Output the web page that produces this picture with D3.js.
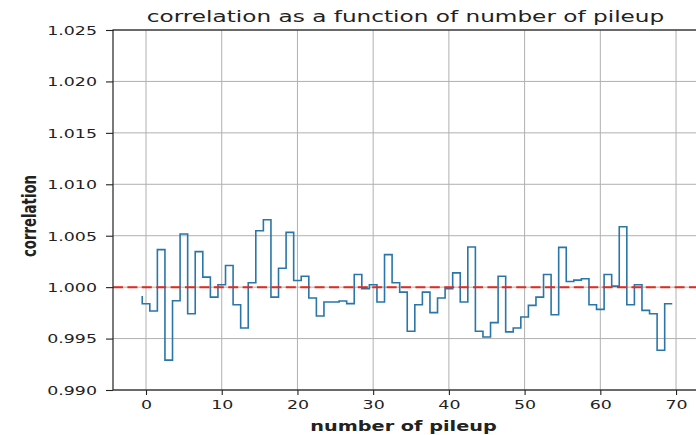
<!DOCTYPE html>
<html>
<head>
<meta charset="utf-8">
<script src="https://cdn.jsdelivr.net/npm/d3@7"></script>
<style>
  html, body { margin: 0; padding: 0; background: #fff; overflow: hidden; }
  svg { display: block; }
  text { font-family: "DejaVu Sans", sans-serif; fill: #222; }
</style>
</head>
<body>
<svg id="chart" width="696" height="435"></svg>
<script>
// Step edges (number of pileup) and the correlation value reached at each edge
const pileupEdges = [
  -0.5, 0.5, 1.5, 2.5, 3.5, 4.5, 5.5, 6.5, 7.5, 8.5, 9.5,
  10.5, 11.5, 12.5, 13.5, 14.5, 15.5, 16.5, 17.5, 18.5, 19.5,
  20.5, 21.5, 22.5, 23.5, 24.5, 25.5, 26.5, 27.5, 28.5, 29.5,
  30.5, 31.5, 32.5, 33.5, 34.5, 35.5, 36.5, 37.5, 38.5, 39.5,
  40.5, 41.5, 42.5, 43.5, 44.5, 45.5, 46.5, 47.5, 48.5, 49.5,
  50.5, 51.5, 52.5, 53.5, 54.5, 55.5, 56.5, 57.5, 58.5, 59.5,
  60.5, 61.5, 62.5, 63.5, 64.5, 65.5, 66.5, 67.5, 68.5, 69.5
];
const correlation = [
  0.99913,
  0.99839, 0.99768, 1.00365, 0.99290, 0.99868, 1.00516, 0.99742, 1.00345, 1.00097, 0.99903,
  1.00023, 1.00210, 0.99829, 0.99603, 1.00042, 1.00548, 1.00655, 0.99903, 1.00184, 1.00532,
  1.00065, 1.00106, 0.99894, 0.99719, 0.99856, 0.99856, 0.99865, 0.99840, 1.00123, 0.99984,
  1.00023, 0.99855, 1.00316, 1.00042, 0.99952, 0.99571, 0.99829, 0.99952, 0.99752, 0.99894,
  0.99984, 1.00139, 0.99855, 1.00390, 0.99571, 0.99516, 0.99655, 1.00106, 0.99565, 0.99603,
  0.99710, 0.99823, 0.99903, 1.00123, 0.99732, 1.00387, 1.00055, 1.00068, 1.00081, 0.99829,
  0.99784, 1.00123, 1.00010, 1.00587, 0.99829, 1.00023, 0.99774, 0.99742, 0.99387, 0.99839
];
const referenceLevel = 1.0;
const xTicks = [0, 10, 20, 30, 40, 50, 60, 70];
const yTicks = [0.990, 0.995, 1.000, 1.005, 1.010, 1.015, 1.020, 1.025];
const titleText = "correlation as a function of number of pileup";
const xLabelText = "number of pileup";
const yLabelText = "correlation";

// Layout
const SX = 1.45;            // horizontal stretch applied to text glyphs
const plot = { left: 113, right: 698, top: 30, bottom: 390 };

const svg = d3.select("#chart");

const x = d3.scaleLinear().domain([-4.36, 72.9]).range([plot.left, plot.right]);
const y = d3.scaleLinear().domain([0.990, 1.025]).range([plot.bottom, plot.top]);

// Grid
const grid = svg.append("g").attr("class", "grid");
grid.selectAll("line.gx").data(xTicks).join("line")
  .attr("x1", d => x(d)).attr("x2", d => x(d))
  .attr("y1", plot.top).attr("y2", plot.bottom)
  .attr("stroke", "#b0b0b0").attr("stroke-width", 1);
grid.selectAll("line.gy").data(yTicks).join("line")
  .attr("x1", plot.left).attr("x2", plot.right)
  .attr("y1", d => y(d)).attr("y2", d => y(d))
  .attr("stroke", "#b0b0b0").attr("stroke-width", 1);

// Step line
const points = pileupEdges.map((p, i) => [p, correlation[i]]);
const line = d3.line()
  .x(d => x(d[0])).y(d => y(d[1]))
  .curve(d3.curveStepBefore);
svg.append("path")
  .datum(points)
  .attr("d", line)
  .attr("fill", "none")
  .attr("stroke", "#2a76a8")
  .attr("stroke-width", 1.6)
  .attr("stroke-linejoin", "miter");

// Reference line at 1.0
svg.append("line")
  .attr("x1", plot.left).attr("x2", plot.right)
  .attr("y1", y(referenceLevel)).attr("y2", y(referenceLevel))
  .attr("stroke", "#e8281f").attr("stroke-width", 2)
  .attr("stroke-dasharray", "10,4.4");

// Frame
svg.append("rect")
  .attr("x", plot.left).attr("y", plot.top)
  .attr("width", plot.right - plot.left).attr("height", plot.bottom - plot.top)
  .attr("fill", "none").attr("stroke", "#222").attr("stroke-width", 1.2);

// Axes
const xAxis = svg.append("g")
  .attr("transform", `translate(0,${plot.bottom})`)
  .call(d3.axisBottom(x).tickValues(xTicks).tickFormat(d3.format("d")).tickSize(5).tickPadding(4));
const yAxis = svg.append("g")
  .attr("transform", `translate(${plot.left},0)`)
  .call(d3.axisLeft(y).tickValues(yTicks).tickFormat(d3.format(".3f")).tickSize(7).tickSizeOuter(0));

[xAxis, yAxis].forEach(g => {
  g.select(".domain").remove();
  g.selectAll(".tick line").attr("stroke", "#222").attr("stroke-width", 1.1);
  g.selectAll(".tick text").attr("font-size", 12).attr("fill", "#222")
    .style("font-family", "'DejaVu Sans', sans-serif");
});
xAxis.selectAll(".tick text")
  .attr("y", null).attr("dy", null)
  .attr("dominant-baseline", "hanging")
  .attr("transform", `translate(0,10) scale(${SX},1)`);
yAxis.selectAll(".tick text")
  .attr("x", null).attr("dy", "0.36em")
  .attr("transform", `translate(-16,0) scale(${SX},1)`);

// Title and axis labels
svg.append("text")
  .attr("transform", `translate(${(plot.left + plot.right) / 2},22) scale(${SX},1)`)
  .attr("text-anchor", "middle")
  .attr("font-size", 16)
  .text(titleText);

svg.append("text")
  .attr("transform", `translate(${(plot.left + plot.right) / 2 - 2},431) scale(${SX},1)`)
  .attr("text-anchor", "middle")
  .attr("font-size", 13.3)
  .attr("font-weight", "bold")
  .text(xLabelText);

svg.append("text")
  .attr("transform", `translate(36,${(plot.top + plot.bottom) / 2 + 6}) scale(${SX},1) rotate(-90)`)
  .attr("text-anchor", "middle")
  .attr("font-size", 13.3)
  .attr("font-weight", "bold")
  .text(yLabelText);
</script>
</body>
</html>
